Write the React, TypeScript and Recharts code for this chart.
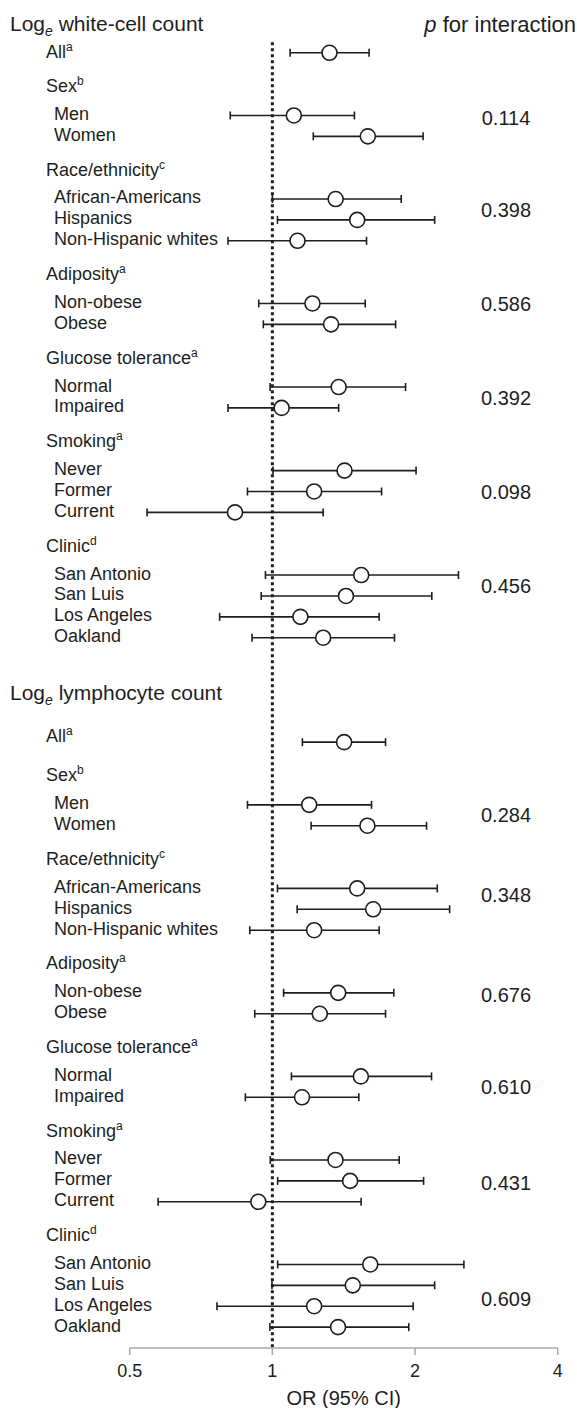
import { ScatterChart, Scatter, XAxis, YAxis, ErrorBar, ReferenceLine } from "recharts";

const FONT = "'Liberation Sans', Arial, Helvetica, sans-serif";
const INK = "#1e1e1e";

// subgroup rows, same order in both panels
const subgroupLabels = [
  "All",
  "Men", "Women",
  "African-Americans", "Hispanics", "Non-Hispanic whites",
  "Non-obese", "Obese",
  "Normal", "Impaired",
  "Never", "Former", "Current",
  "San Antonio", "San Luis", "Los Angeles", "Oakland",
];
const groupNames = ["Sex", "Race/ethnicity", "Adiposity", "Glucose tolerance", "Smoking", "Clinic"];
const groupNotes = ["b", "c", "a", "a", "a", "d"];
const groupSizes = [2, 3, 2, 2, 3, 4];

// log white-cell count
const wbcOR = [1.32, 1.11, 1.59, 1.36, 1.51, 1.13, 1.215, 1.33, 1.38, 1.046, 1.42, 1.225, 0.834, 1.54, 1.43, 1.146, 1.28];
const wbcLower = [1.09, 0.815, 1.22, 1.0, 1.025, 0.806, 0.936, 0.957, 0.989, 0.806, 1.003, 0.886, 0.544, 0.967, 0.947, 0.774, 0.906];
const wbcUpper = [1.6, 1.49, 2.08, 1.87, 2.2, 1.58, 1.57, 1.82, 1.91, 1.38, 2.01, 1.7, 1.28, 2.47, 2.17, 1.68, 1.81];
const wbcP = ["0.114", "0.398", "0.586", "0.392", "0.098", "0.456"];

// log lymphocyte count
const lymOR = [1.417, 1.196, 1.587, 1.51, 1.632, 1.225, 1.377, 1.259, 1.537, 1.155, 1.359, 1.459, 0.934, 1.609, 1.478, 1.225, 1.376];
const lymLower = [1.157, 0.886, 1.207, 1.025, 1.128, 0.896, 1.056, 0.918, 1.097, 0.877, 0.99, 1.026, 0.574, 1.026, 0.998, 0.764, 0.988];
const lymUpper = [1.733, 1.619, 2.115, 2.228, 2.366, 1.68, 1.804, 1.733, 2.167, 1.522, 1.852, 2.085, 1.539, 2.536, 2.2, 1.982, 1.94];
const lymP = ["0.284", "0.348", "0.676", "0.610", "0.431", "0.609"];

const xTicks = [0.5, 1, 2, 4];

// layout: where each p value sits relative to the group's first row
const wbcPShift = [0.1, 0.5, 0, 0.5, 1, 0.5];
const lymPShift = [0.5, 0.3, 0.1, 0.5, 1.1, 1.65];

type Row = { slot: number; or: number; err: [number, number] };
type Lab = { slot: number; kind: string; text: string; note?: string };

function buildPanel(
  title: string,
  titleSlot: number,
  start: number,
  or: number[],
  lo: number[],
  hi: number[],
  pv: string[],
  pShift: number[],
  allKind: string
) {
  const rows: Row[] = [];
  const labels: Lab[] = [];
  const pLabels: Lab[] = [];
  labels.push({ slot: titleSlot, kind: "title", text: title });
  labels.push({ slot: start, kind: allKind, text: subgroupLabels[0], note: "a" });
  rows.push({ slot: start, or: or[0], err: [or[0] - lo[0], hi[0] - or[0]] });
  let slot = start + 2;
  let i = 1;
  groupNames.forEach((g, gi) => {
    labels.push({ slot, kind: "header", text: g, note: groupNotes[gi] });
    const first = slot + 1;
    for (let k = 0; k < groupSizes[gi]; k++) {
      labels.push({ slot: first + k, kind: "item", text: subgroupLabels[i] });
      rows.push({ slot: first + k, or: or[i], err: [or[i] - lo[i], hi[i] - or[i]] });
      i++;
    }
    pLabels.push({ slot: first + pShift[gi], kind: "p", text: pv[gi] });
    slot = first + groupSizes[gi] + 1;
  });
  return { rows, labels, pLabels };
}

const wbc = buildPanel(" white-cell count", -1, 0, wbcOR, wbcLower, wbcUpper, wbcP, wbcPShift, "all");
const lym = buildPanel(" lymphocyte count", 31, 33, lymOR, lymLower, lymUpper, lymP, lymPShift, "all2");

const rows = [...wbc.rows, ...lym.rows];
const leftLabels = [...wbc.labels, ...lym.labels];
const rightLabels = [{ slot: -1, kind: "phead", text: "for interaction" }, ...wbc.pLabels, ...lym.pLabels];
const leftBySlot = new Map(leftLabels.map((l) => [l.slot, l]));
const rightBySlot = new Map(rightLabels.map((l) => [l.slot, l]));

const Y_DOMAIN = [-2, 62];

function LeftTick(props: any) {
  const { y, payload } = props;
  const l = leftBySlot.get(payload.value);
  if (!l) return null;
  if (l.kind === "title") {
    return (
      <text x={10} y={y - 8} dy="0.36em" fontSize={21} fill={INK}>
        Log
        <tspan dy={5} fontSize={14} fontStyle="italic">e</tspan>
        <tspan dy={-5}>{l.text}</tspan>
      </text>
    );
  }
  const x = l.kind === "item" ? 54 : 46;
  const shift = l.kind === "header" ? -9 : l.kind === "all2" ? -7 : l.kind === "item" ? -2 : -1;
  return (
    <text x={x} y={y + shift} dy="0.36em" fontSize={18} fill={INK}>
      {l.text}
      {l.note ? (
        <tspan dy={-7} fontSize={12}>{l.note}</tspan>
      ) : null}
    </text>
  );
}

function RightTick(props: any) {
  const { y, payload } = props;
  const l = rightBySlot.get(payload.value);
  if (!l) return null;
  if (l.kind === "phead") {
    return (
      <text x={576} y={y - 8} dy="0.36em" fontSize={22} fill={INK} textAnchor="end">
        <tspan fontStyle="italic">p</tspan> {l.text}
      </text>
    );
  }
  return (
    <text x={506} y={y} dy="0.36em" fontSize={20} fill={INK} textAnchor="middle">
      {l.text}
    </text>
  );
}

const Ring = (p: any) => (
  <circle cx={p.cx} cy={p.cy} r={7.5} fill="#fff" stroke={INK} strokeWidth={1.6} />
);

export default function App() {
  return (
    <div
      style={{
        position: "absolute",
        left: 0,
        top: 0,
        width: 577,
        height: 1408,
        background: "#fff",
        fontFamily: FONT,
      }}
    >
      <ScatterChart
        width={577}
        height={1408}
        margin={{ top: 11, right: 18.3, bottom: 0, left: 128.7 }}
      >
        <XAxis
          dataKey="or"
          type="number"
          scale="log"
          domain={[0.5, 4]}
          ticks={xTicks}
          allowDataOverflow
          height={60}
          tickSize={7}
          tickMargin={9}
          interval={0}
          stroke="#a8a8a8"
          strokeWidth={1.5}
          tick={{ fontSize: 18, fill: INK }}
          label={{ value: "OR (95% CI)", position: "insideBottom", offset: 3, fontSize: 20, fill: INK }}
        />
        <YAxis
          yAxisId="lab"
          dataKey="slot"
          type="number"
          domain={Y_DOMAIN}
          allowDataOverflow
          reversed
          width={1}
          axisLine={false}
          tickLine={false}
          ticks={leftLabels.map((l) => l.slot)}
          interval={0}
          tick={<LeftTick />}
        />
        <YAxis
          yAxisId="p"
          orientation="right"
          type="number"
          domain={Y_DOMAIN}
          allowDataOverflow
          reversed
          width={1}
          axisLine={false}
          tickLine={false}
          ticks={rightLabels.map((l) => l.slot)}
          interval={0}
          tick={<RightTick />}
        />
        <ReferenceLine
          yAxisId="lab"
          segment={[
            { x: 1, y: -0.5 },
            { x: 1, y: 62 },
          ]}
          stroke={INK}
          strokeWidth={3}
          strokeDasharray="3 3"
        />
        <Scatter yAxisId="lab" data={rows} shape={Ring} isAnimationActive={false}>
          <ErrorBar dataKey="err" direction="x" width={4} stroke={INK} strokeWidth={1.6} />
        </Scatter>
      </ScatterChart>
    </div>
  );
}
